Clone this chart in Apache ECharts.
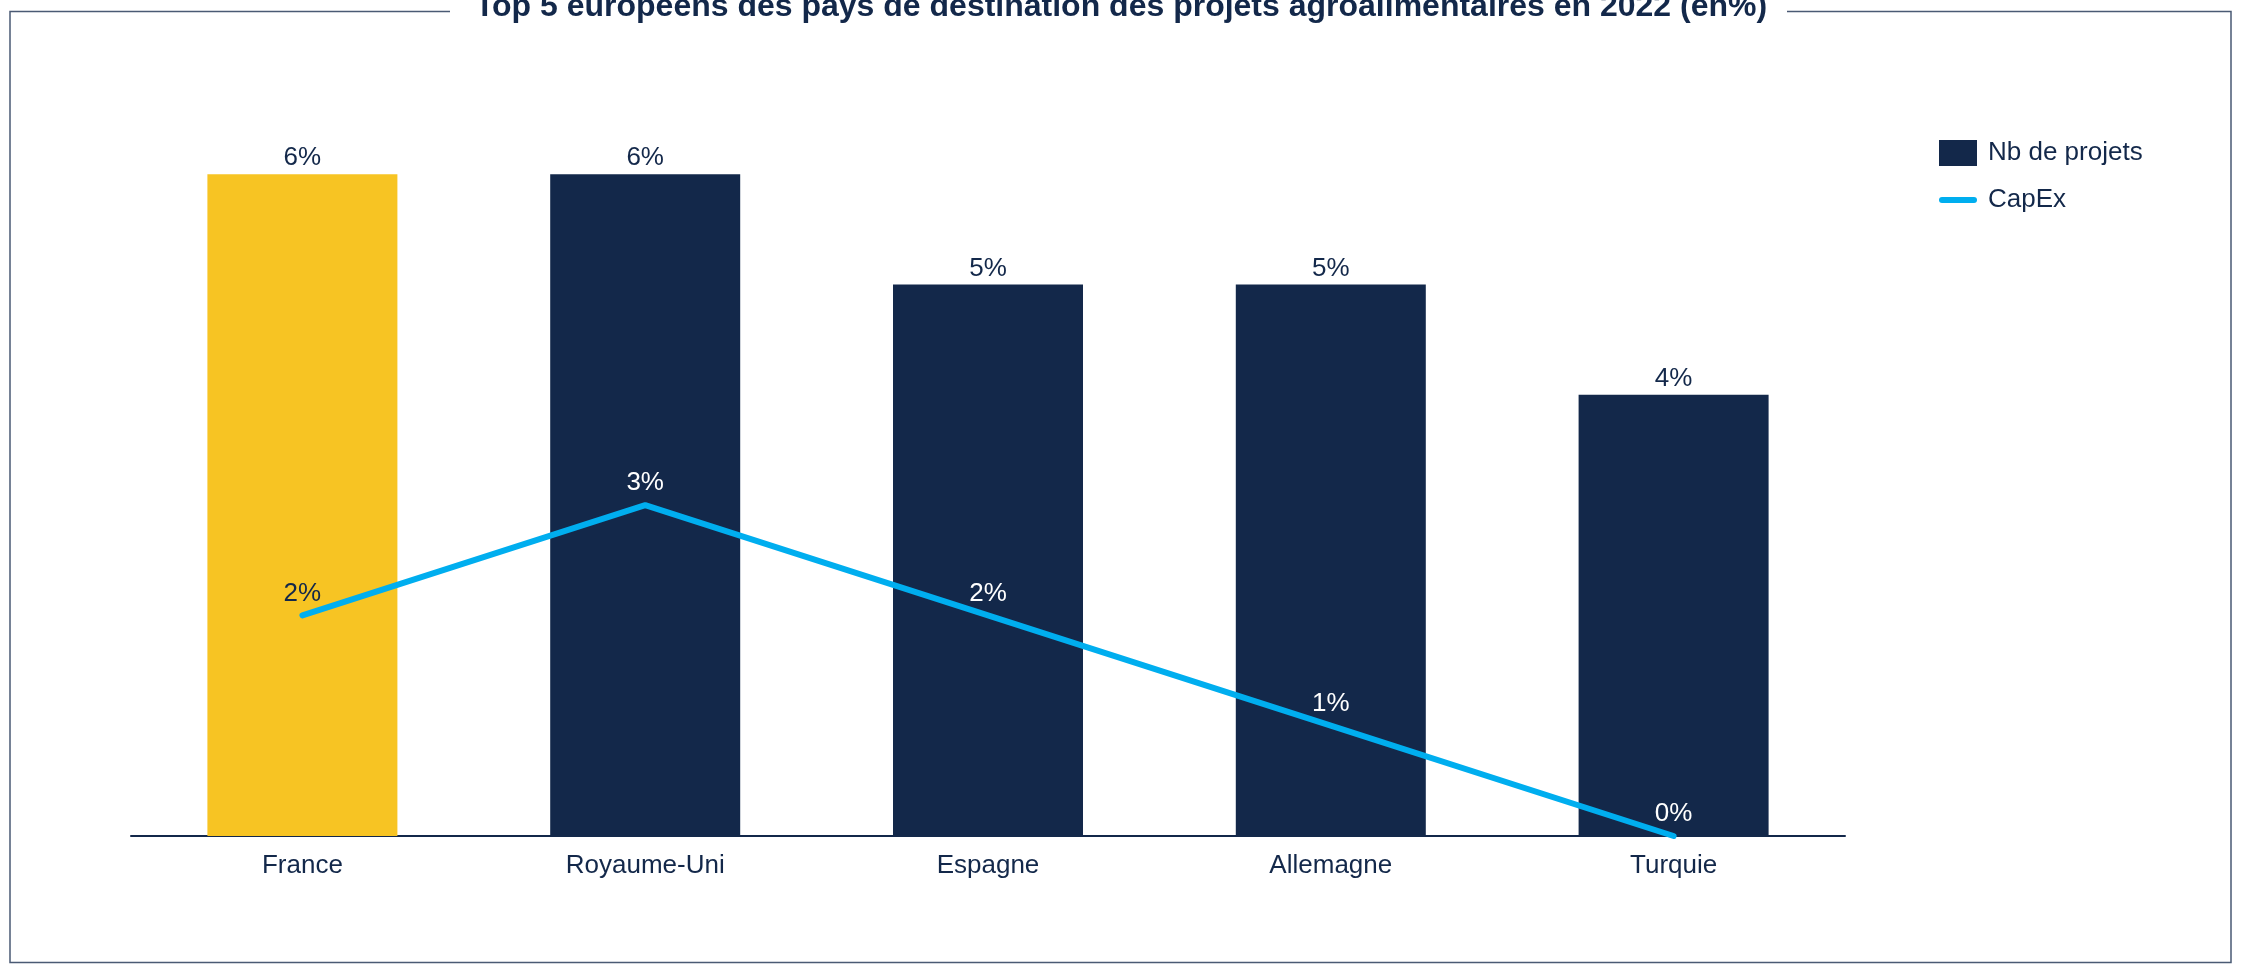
<!DOCTYPE html>
<html>
<head>
<meta charset="utf-8">
<title>Top 5 européens des pays de destination des projets agroalimentaires en 2022</title>
<script src="https://cdn.jsdelivr.net/npm/echarts@6/dist/echarts.min.js"></script>
<style>
  html, body { margin: 0; padding: 0; background: #ffffff; }
  #chart { width: 2242px; height: 966px; }
</style>
</head>
<body>
<div id="chart"></div>
<script>
// Countries and shares (%) of agri-food projects in 2022
const categories = ['France', 'Royaume-Uni', 'Espagne', 'Allemagne', 'Turquie'];
const nbProjets = [6, 6, 5, 5, 4];
const capex = [2, 3, 2, 1, 0];
const titleText = 'Top 5 européens des pays de destination des projets agroalimentaires en 2022 (en%)';

const NAVY = '#13284a';
const YELLOW = '#f7c423';
const CYAN = '#00aeef';
const FRAME = '#4a5a74';
const FONT = '"Liberation Sans", Arial, sans-serif';

const chart = echarts.init(document.getElementById('chart'), null, { renderer: 'canvas' });

const barData = nbProjets.map((v, i) => (
  i === 0 ? { value: v, itemStyle: { color: YELLOW } } : { value: v }
));
const lineData = capex.map((v, i) => ({
  value: v,
  label: { color: i === 0 ? NAVY : '#ffffff' }
}));

const option = {
  backgroundColor: '#ffffff',
  animation: false,
  textStyle: { fontFamily: FONT },
  grid: { left: 131, right: 397, top: 64, bottom: 130, containLabel: false },
  xAxis: {
    type: 'category',
    data: categories,
    axisLine: { show: true, lineStyle: { color: NAVY, width: 2 } },
    axisTick: { show: false },
    axisLabel: { fontSize: 26, color: NAVY, margin: 17, fontFamily: FONT }
  },
  yAxis: {
    type: 'value',
    min: 0,
    max: 7,
    show: false,
    splitLine: { show: false }
  },
  legend: [
    {
      data: [{ name: 'Nb de projets', icon: 'rect' }],
      left: 1939,
      top: 140,
      orient: 'vertical',
      padding: 0,
      itemWidth: 38,
      itemHeight: 26,
      textStyle: { fontSize: 26, color: NAVY, fontFamily: FONT, padding: [0, 0, 0, 6] }
    },
    {
      data: [{ name: 'CapEx', icon: 'path://M3,0 L35,0 A3,3 0 0 1 35,6 L3,6 A3,3 0 0 1 3,0 Z' }],
      left: 1939,
      top: 187,
      orient: 'vertical',
      padding: 0,
      itemWidth: 38,
      itemHeight: 6,
      textStyle: { fontSize: 26, color: NAVY, fontFamily: FONT, padding: [0, 0, 0, 6] }
    }
  ],
  series: [
    {
      name: 'Nb de projets',
      type: 'bar',
      data: barData,
      barWidth: 190,
      itemStyle: { color: NAVY },
      label: {
        show: true,
        position: 'top',
        distance: 3,
        formatter: '{c}%',
        fontSize: 26,
        color: NAVY,
        fontFamily: FONT
      }
    },
    {
      name: 'CapEx',
      type: 'line',
      data: lineData,
      symbol: 'circle',
      symbolSize: 0.1,
      itemStyle: { color: CYAN },
      lineStyle: { color: CYAN, width: 6, cap: 'round', join: 'round' },
      label: {
        show: true,
        position: 'top',
        distance: 9,
        formatter: '{c}%',
        fontSize: 26,
        fontFamily: FONT
      },
      z: 5
    }
  ],
  graphic: [
    {
      type: 'rect',
      z: 0,
      silent: true,
      shape: { x: 10, y: 11.5, width: 2221, height: 951 },
      style: { fill: null, stroke: FRAME, lineWidth: 1.5 }
    },
    {
      type: 'rect',
      z: 1,
      silent: true,
      shape: { x: 450, y: 0, width: 1337, height: 22 },
      style: { fill: '#ffffff' }
    },
    {
      type: 'text',
      z: 2,
      silent: true,
      x: 1121,
      y: 7,
      style: {
        text: titleText,
        fontSize: 32,
        fontWeight: 'bold',
        fontFamily: FONT,
        fill: NAVY,
        align: 'center',
        verticalAlign: 'middle'
      }
    }
  ]
};

chart.setOption(option);
</script>
</body>
</html>
